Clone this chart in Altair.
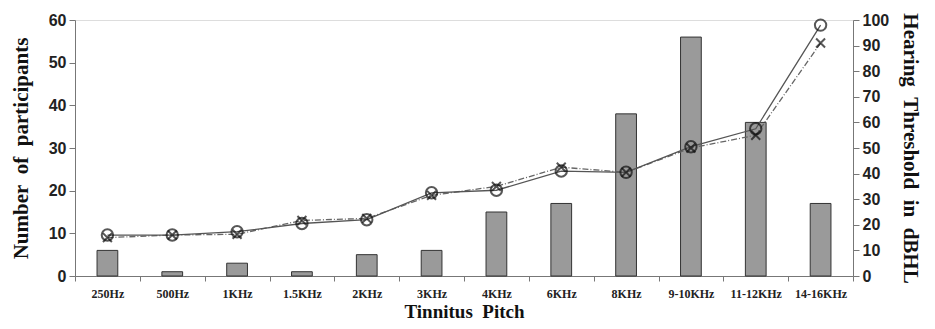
import altair as alt
import pandas as pd

categories = ["250Hz", "500Hz", "1KHz", "1.5KHz", "2KHz", "3KHz", "4KHz",
              "6KHz", "8KHz", "9-10KHz", "11-12KHz", "14-16KHz"]
participants = [6, 1, 3, 1, 5, 6, 15, 17, 38, 56, 36, 17]
threshold_o = [16, 16, 17.3, 20.5, 22, 32.5, 33.5, 41, 40.5, 50.5, 57.5, 98]
threshold_x = [15, 16, 16.3, 21.7, 22.5, 31.5, 35, 42.5, 40.5, 50, 55, 91]

df = pd.DataFrame({"pitch": categories, "n": participants,
                   "o": threshold_o, "x": threshold_x})

SP = "\u2002"

xenc = alt.X("pitch:N", sort=categories,
             scale=alt.Scale(paddingInner=0, paddingOuter=0),
             axis=alt.Axis(title="Tinnitus" + SP + "Pitch", labelAngle=0, tickBand="extent",
                           labelFont="Liberation Serif", labelFontWeight="bold",
                           labelFontSize=12, labelColor="#222", labelPadding=7,
                           titleFont="Liberation Serif", titleFontWeight="bold",
                           titleFontSize=19, titleColor="#111", titlePadding=3,
                           domainColor="#777", tickColor="#777", tickSize=5,
                           grid=False))

bars = alt.Chart(df).mark_bar(width=alt.RelativeBandSize(0.32), color="#9a9a9a",
                              stroke="#333", strokeWidth=1).encode(
    x=xenc,
    y=alt.Y("n:Q", scale=alt.Scale(domain=[0, 60], nice=False),
            axis=alt.Axis(title="Number" + SP + "of" + SP + "participants", orient="left",
                          values=list(range(0, 61, 10)), grid=False,
                          labelOverlap=False,
                          labelFont="Liberation Sans", labelFontWeight="bold",
                          labelFontSize=16, labelColor="#222", labelPadding=3,
                          titleFont="Liberation Serif", titleFontWeight="bold",
                          titleFontSize=21, titleColor="#111", titlePadding=17,
                          domainColor="#777", tickColor="#777", tickSize=6))
)

right_axis = alt.Axis(title="Hearing" + SP + "Threshold" + SP + "in" + SP + "dBHL",
                      orient="right", values=list(range(0, 101, 10)), grid=False,
                      labelOverlap=False, titleAngle=90,
                      labelFont="Liberation Sans", labelFontWeight="bold",
                      labelFontSize=16, labelColor="#222", labelPadding=3,
                      titleFont="Liberation Serif", titleFontWeight="bold",
                      titleFontSize=21, titleColor="#111", titlePadding=11,
                      domainColor="#777", tickColor="#777", tickSize=6)
rscale = alt.Scale(domain=[0, 100], nice=False)
xr = alt.X("pitch:N", sort=categories)

line_o = alt.Chart(df).mark_line(color="#555", strokeWidth=1.3).encode(
    x=xr, y=alt.Y("o:Q", scale=rscale, axis=right_axis))
line_x = alt.Chart(df).mark_line(color="#666", strokeWidth=1.3,
                                 strokeDash=[6, 2, 1, 2]).encode(
    x=xr, y=alt.Y("x:Q", scale=rscale, axis=right_axis))
pts_o = alt.Chart(df).mark_point(shape="circle", filled=False, color="#111",
                                 size=130, strokeWidth=2).encode(
    x=xr, y=alt.Y("o:Q", scale=rscale, axis=right_axis))
pts_x = alt.Chart(df).mark_point(shape="M-1,-1L1,1M1,-1L-1,1", filled=False,
                                 color="#111", size=80, strokeWidth=2).encode(
    x=xr, y=alt.Y("x:Q", scale=rscale, axis=right_axis))

right = alt.layer(line_x, line_o, pts_x, pts_o)

chart = alt.layer(bars, right).resolve_scale(y="independent").properties(
    width=778, height=256,
    autosize=alt.AutoSizeParams(type="none"),
    padding={"left": 67, "top": 12, "right": 74, "bottom": 45},
).configure_view(stroke=None).configure(background="white")

chart.save("out.html", embed_options={"renderer": "svg", "actions": False})
